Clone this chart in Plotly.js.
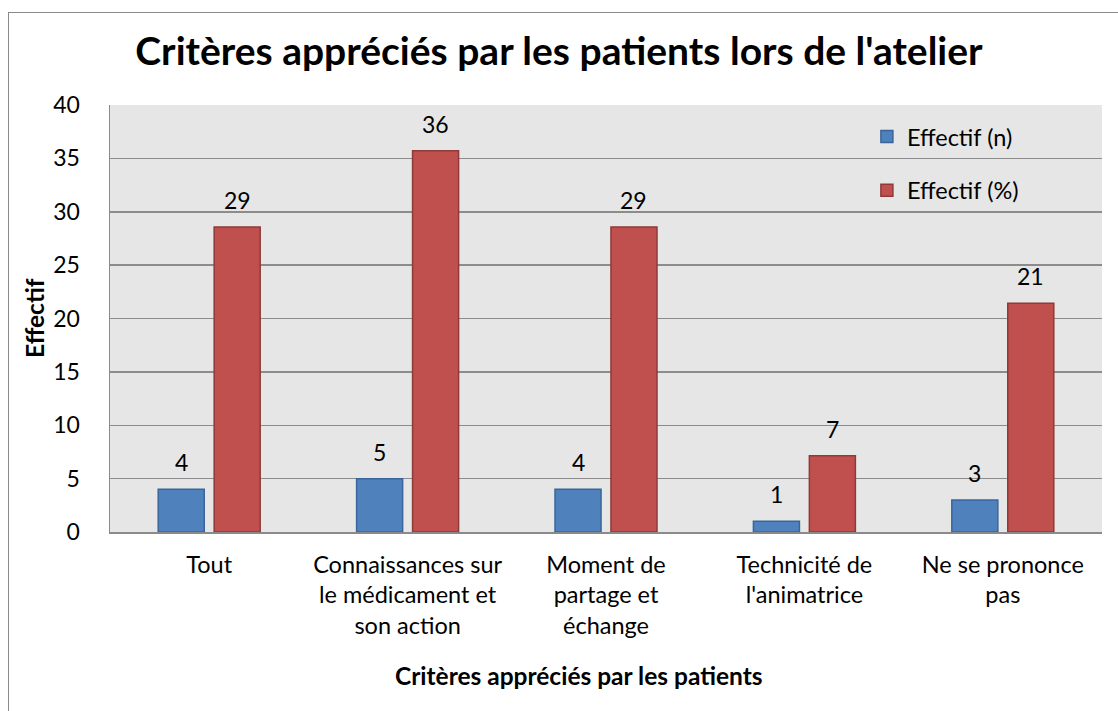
<!DOCTYPE html>
<html>
<head>
<meta charset="utf-8">
<script src="https://cdn.plot.ly/plotly-3.0.1.min.js"></script>
<style>
  html, body { margin: 0; padding: 0; background: #ffffff; overflow: hidden; }
  #frame { position: absolute; left: 8px; top: 12px; width: 1200px; height: 800px; border-left: 1.5px solid #8a8a8a; border-top: 1.5px solid #8a8a8a; }
  #chart { position: absolute; left: 0; top: 0; width: 1118px; height: 711px; }
</style>
</head>
<body>
<div id="frame"></div>
<div id="chart"></div>
<script>
const categories = [
  "Tout",
  "Connaissances sur<br>le médicament et<br>son action",
  "Moment de<br>partage et<br>échange",
  "Technicité de<br>l'animatrice",
  "Ne se prononce<br>pas"
];
const effectifN = [4, 5, 4, 1, 3];
const effectifPct = [28.57, 35.71, 28.57, 7.14, 21.43];
const seriesNames = ["Effectif (n)", "Effectif (%)"];
const yTicks = [0, 5, 10, 15, 20, 25, 30, 35, 40];

const FONT = "Lato, 'Open Sans', sans-serif";
const idx = categories.map((c, i) => i);
const barW = 0.232;
const offN = -0.141 - barW / 2;
const offP = 0.141 - barW / 2;

const traces = [
  {
    type: "bar", x: idx, y: effectifN, name: seriesNames[0],
    width: barW, offset: offN, legendgroup: "a",
    marker: { color: "#4F81BD", line: { color: "#3A659A", width: 1.5 } },
    hoverinfo: "y"
  },
  {
    type: "bar", x: idx, y: effectifPct, name: seriesNames[1],
    width: barW, offset: offP, legendgroup: "b",
    marker: { color: "#C0504D", line: { color: "#8E3A38", width: 1.5 } },
    hoverinfo: "y"
  }
];

const annotations = [];
idx.forEach(i => {
  annotations.push({ x: i - 0.141, y: effectifN[i], xref: "x", yref: "y", text: String(Math.round(effectifN[i])),
    showarrow: false, yanchor: "bottom", yshift: 11, font: { family: FONT, size: 23, color: "#000" } });
  annotations.push({ x: i + 0.141, y: effectifPct[i], xref: "x", yref: "y", text: String(Math.round(effectifPct[i])),
    showarrow: false, yanchor: "bottom", yshift: 11, font: { family: FONT, size: 23, color: "#000" } });
});
// x-axis title
annotations.push({ x: 0.473, y: (532 - 675) / 427, xref: "paper", yref: "paper", text: "<b>Critères appréciés par les patients</b>",
  showarrow: false, xanchor: "center", yanchor: "middle", font: { family: FONT, size: 24.5, color: "#000" } });
// y-axis title
annotations.push({ x: (34 - 110) / 992, y: (532 - 318) / 427, xref: "paper", yref: "paper", text: "<b>Effectif</b>",
  textangle: -90, showarrow: false, xanchor: "center", yanchor: "middle", font: { family: FONT, size: 24.5, color: "#000" } });

const layout = {
  width: 1118, height: 711,
  paper_bgcolor: "rgba(0,0,0,0)",
  plot_bgcolor: "#E6E6E6",
  margin: { l: 110, r: 16, t: 105, b: 179 },
  title: { text: "<b>Critères appréciés par les patients lors de l'atelier</b>", x: 0.5, xref: "container", xanchor: "center",
    y: 1 - 51 / 711, yref: "container", yanchor: "middle",
    font: { family: FONT, size: 39, color: "#000" } },
  xaxis: {
    range: [-0.5, 4.5], tickmode: "array", tickvals: idx, ticktext: categories,
    showgrid: false, zeroline: false, showline: true, linecolor: "#8A8A8A", linewidth: 1.5,
    ticks: "", tickfont: { family: FONT, size: 23.5, color: "#000" }, ticklabelstandoff: 11,
    fixedrange: true
  },
  yaxis: {
    range: [0, 40], tickmode: "array", tickvals: yTicks,
    showgrid: true, gridcolor: "#8C8C8C", gridwidth: 1.5, zeroline: false,
    showline: true, linecolor: "#8A8A8A", linewidth: 1.5, mirror: false,
    ticks: "", ticklabelstandoff: 24, tickfont: { family: FONT, size: 23, color: "#000" },
    fixedrange: true
  },
  showlegend: true,
  legend: {
    x: 0.763, y: 0.977, xanchor: "left", yanchor: "top", bgcolor: "rgba(0,0,0,0)",
    traceorder: "grouped", tracegroupgap: 20,
    font: { family: FONT, size: 23.5, color: "#000" }, itemwidth: 30
  },
  annotations: annotations,
  bargap: 0, barmode: "overlay"
};

Plotly.newPlot("chart", traces, layout, { displayModeBar: false, staticPlot: true });
</script>
</body>
</html>
